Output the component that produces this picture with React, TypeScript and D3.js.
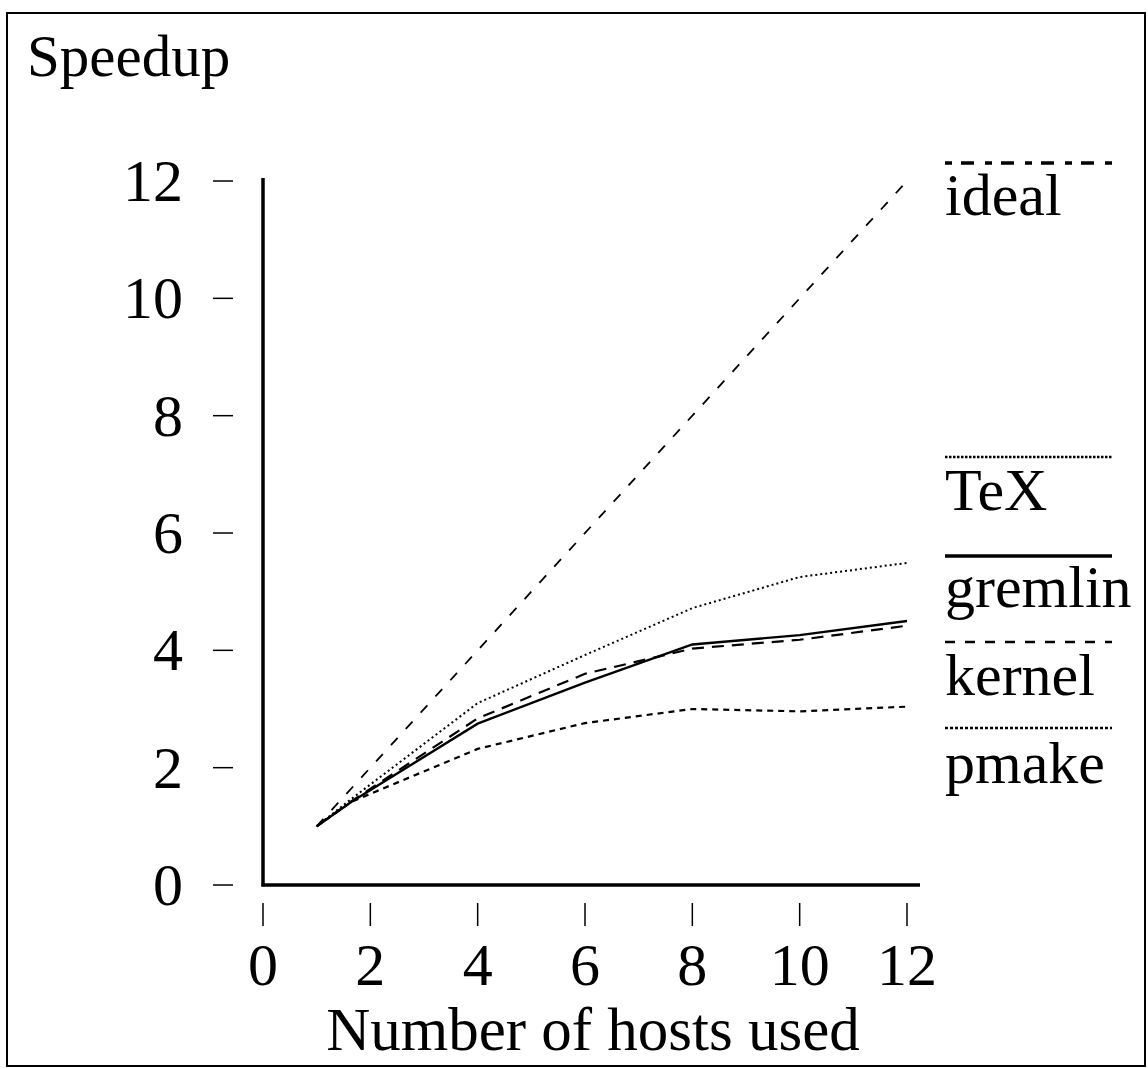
import { useEffect } from "react";
import * as d3 from "d3";

// hosts at which the speedups were measured
const hosts = [1, 1.65, 4, 6, 8, 10, 12];
const texSpeedup = [1, 1.47, 3.1, 3.92, 4.72, 5.25, 5.49];
const gremlinSpeedup = [1, 1.42, 2.75, 3.45, 4.1, 4.26, 4.5];
const kernelSpeedup = [1, 1.43, 2.84, 3.6, 4.03, 4.18, 4.42];
const pmakeSpeedup = [1, 1.42, 2.32, 2.76, 3.0, 2.96, 3.04];
const idealHosts = [1, 12];
const idealSpeedup = [1, 12];

const xTicks = [0, 2, 4, 6, 8, 10, 12];
const yTicks = [0, 2, 4, 6, 8, 10, 12];

const series = [
  { name: "ideal", xs: idealHosts, ys: idealSpeedup, dash: "10 12", width: 1.8, legendDash: "7 9 13 11", legendWidth: 3.5, legendY: 163, labelY: 215 },
  { name: "TeX", xs: hosts, ys: texSpeedup, dash: "2 3", width: 2, legendDash: "2.5 1.5", legendWidth: 2.5, legendY: 457, labelY: 510 },
  { name: "gremlin", xs: hosts, ys: gremlinSpeedup, dash: null, width: 2.4, legendDash: null, legendWidth: 3.5, legendY: 556, labelY: 607 },
  { name: "kernel", xs: hosts, ys: kernelSpeedup, dash: "12 8", width: 2.2, legendDash: "10 10", legendWidth: 2.5, legendY: 642, labelY: 695 },
  { name: "pmake", xs: hosts, ys: pmakeSpeedup, dash: "6 5", width: 2.2, legendDash: "3 2", legendWidth: 2.5, legendY: 728, labelY: 783 },
];

const font = "'Liberation Serif', 'Times New Roman', serif";

export default function App() {
  useEffect(() => {
    document.body.style.margin = "0";
  }, []);

  const width = 1148;
  const height = 1069;

  const x = d3.scaleLinear().domain([0, 12]).range([263, 907]);
  const y = d3.scaleLinear().domain([0, 12]).range([885, 181]);

  const line = d3
    .line<[number, number]>()
    .x((d) => x(d[0]))
    .y((d) => y(d[1]));

  return (
    <svg width={width} height={height} style={{ display: "block", background: "#fff" }} fontFamily={font}>
      <rect x={7} y={13} width={1138} height={1053} fill="none" stroke="#000" strokeWidth={2} />

      <text x={27} y={76} fontSize={59}>
        Speedup
      </text>

      {/* axes */}
      <line x1={x(0)} x2={x(0)} y1={y(12) - 3} y2={y(0) + 1.5} stroke="#000" strokeWidth={3.5} />
      <line x1={x(0) - 1.5} x2={920} y1={y(0)} y2={y(0)} stroke="#000" strokeWidth={3.5} />

      {yTicks.map((t) => (
        <g key={`y${t}`}>
          <line x1={213} x2={233} y1={y(t)} y2={y(t)} stroke="#000" strokeWidth={1.5} />
          <text x={183} y={y(t) + 20} fontSize={60} textAnchor="end">
            {t}
          </text>
        </g>
      ))}

      {xTicks.map((t) => (
        <g key={`x${t}`}>
          <line x1={x(t)} x2={x(t)} y1={903} y2={926} stroke="#000" strokeWidth={1.5} />
          <text x={x(t)} y={985} fontSize={60} textAnchor="middle">
            {t}
          </text>
        </g>
      ))}

      <text x={593} y={1050} fontSize={61} textAnchor="middle">
        Number of hosts used
      </text>

      {/* data lines */}
      {series.map((s) => (
        <path
          key={s.name}
          d={line(s.xs.map((h, i) => [h, s.ys[i]] as [number, number])) ?? ""}
          fill="none"
          stroke="#000"
          strokeWidth={s.width}
          strokeDasharray={s.dash ?? undefined}
        />
      ))}

      {/* legend */}
      {series.map((s) => (
        <g key={`leg-${s.name}`}>
          <line
            x1={945}
            x2={1112}
            y1={s.legendY}
            y2={s.legendY}
            stroke="#000"
            strokeWidth={s.legendWidth}
            strokeDasharray={s.legendDash ?? undefined}
          />
          <text x={945} y={s.labelY} fontSize={60}>
            {s.name}
          </text>
        </g>
      ))}
    </svg>
  );
}
